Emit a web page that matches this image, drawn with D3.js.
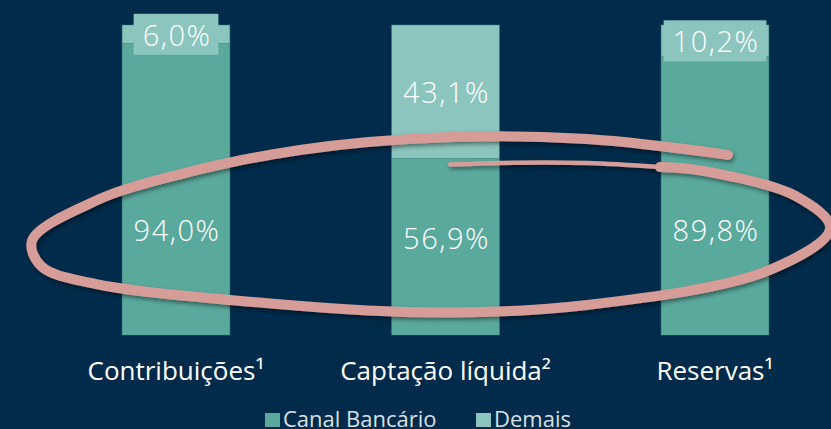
<!DOCTYPE html>
<html>
<head>
<meta charset="utf-8">
<script src="https://cdn.jsdelivr.net/npm/d3@7"></script>
<style>
  html, body { margin: 0; padding: 0; background: #002b4a; }
  svg { display: block; }
</style>
</head>
<body>
<svg id="chart" width="831" height="429"></svg>
<script>
// ---- data ----
const categories = ["Contribuições¹", "Captação líquida²", "Reservas¹"];
const canalBancario = [94.0, 56.9, 89.8];
const demais = [6.0, 43.1, 10.2];
const seriesNames = ["Canal Bancário", "Demais"];
// hand-drawn highlight annotation, in (category position, share) units
const highlightMain = [
  [2.048, 0.581], [1.525, 0.632], [1.0, 0.638], [0.460, 0.597], [0.0, 0.515],
  [-0.300, 0.432], [-0.534, 0.305], [-0.500, 0.222], [-0.300, 0.165], [0.200, 0.113],
  [0.905, 0.073], [1.525, 0.097], [2.204, 0.210], [2.427, 0.345], [2.300, 0.448],
  [1.950, 0.530], [1.796, 0.542]
];
const highlightTail = [[1.796, 0.542], [1.525, 0.555], [1.250, 0.556], [1.017, 0.550]];

// ---- styles ----
const colors = { "Canal Bancário": "#5aa99d", "Demais": "#8bc5bd" };
const bg = "#002b4a";
const pink = "#d69d98";

const svg = d3.select("#chart");
const W = 831, H = 429;
svg.append("rect").attr("width", W).attr("height", H).attr("fill", bg);

const defs = svg.append("defs");
const f = defs.append("filter").attr("id", "shadow").attr("x", "-10%").attr("y", "-10%").attr("width", "120%").attr("height", "130%");
f.append("feDropShadow").attr("dx", 1.5).attr("dy", 2.5).attr("stdDeviation", 2).attr("flood-color", "#000").attr("flood-opacity", 0.45);

const x = d3.scaleBand().domain(categories).range([41.25, 849.75]).paddingInner(0.6).paddingOuter(0.3);
const y = d3.scaleLinear().domain([0, 100]).range([335, 25]);

const rows = categories.map((c, i) => ({ cat: c, "Canal Bancário": canalBancario[i], "Demais": demais[i] }));
const stack = d3.stack().keys(seriesNames)(rows);

const g = svg.append("g");
stack.forEach(layer => {
  g.append("g").selectAll("rect").data(layer).join("rect")
    .attr("x", d => x(d.data.cat))
    .attr("width", x.bandwidth())
    .attr("y", d => y(d[1]))
    .attr("height", d => y(d[0]) - y(d[1]))
    .attr("fill", colors[layer.key])
    .attr("stroke", "#3f8a83").attr("stroke-width", 0.8).attr("stroke-opacity", 0.6);
});

// value labels
const valueFont = "'Open Sans', sans-serif";
stack.forEach(layer => {
  layer.forEach((d, i) => {
    const v = d[1] - d[0];
    const cx = x(d.data.cat) + x.bandwidth() / 2;
    let cy;
    const small = v < 15;
    if (layer.key === "Canal Bancário") {
      cy = Math.max(y(34), y(v / 2) - 9);
    } else {
      cy = (y(d[0]) + y(d[1])) / 2;
    }
    const label = d3.format(".1f")(v).replace(".", ",") + "%";
    const grp = g.append("g");
    const t = grp.append("text")
      .attr("x", cx + 1).attr("y", cy)
      .attr("text-anchor", "middle").attr("dominant-baseline", "central")
      .attr("font-family", valueFont).attr("font-weight", 300)
      .attr("font-size", 29).attr("letter-spacing", 1.5).attr("fill", "#ffffff")
      .text(label);
    if (small) {
      const w = t.node().getComputedTextLength();
      grp.insert("rect", "text")
        .attr("x", cx - w / 2 - 8).attr("width", w + 16)
        .attr("y", cy - 20.5).attr("height", 41)
        .attr("fill", colors["Demais"]);
    }
  });
});

// category labels
svg.append("g").selectAll("text").data(categories).join("text")
  .attr("x", d => x(d) + x.bandwidth() / 2)
  .attr("y", 380)
  .attr("text-anchor", "middle")
  .attr("font-family", "'Open Sans', sans-serif")
  .attr("font-size", 26)
  .attr("fill", "#ffffff")
  .text(d => d);

// highlight annotation
const ax = d3.scaleLinear().domain([0, 2]).range([x(categories[0]) + x.bandwidth() / 2, x(categories[2]) + x.bandwidth() / 2]);
const ay = d3.scaleLinear().domain([0, 1]).range([y(0), y(100)]);
const line = d3.line().x(d => ax(d[0])).y(d => ay(d[1])).curve(d3.curveCatmullRom.alpha(0.5));
const ann = svg.append("g").attr("filter", "url(#shadow)");
ann.append("path").attr("d", line(highlightTail))
  .attr("fill", "none").attr("stroke", pink).attr("stroke-width", 4.5)
  .attr("stroke-linecap", "round");
ann.append("path").attr("d", line(highlightMain))
  .attr("fill", "none").attr("stroke", pink).attr("stroke-width", 10)
  .attr("stroke-linecap", "round").attr("stroke-linejoin", "round");

// legend
const legend = svg.append("g").attr("transform", "translate(265,413)");
const items = [{ name: seriesNames[0], x: 0 }, { name: seriesNames[1], x: 211 }];
items.forEach(it => {
  legend.append("rect").attr("x", it.x).attr("y", 0).attr("width", 15).attr("height", 14).attr("fill", colors[it.name]);
  legend.append("text").attr("x", it.x + 18).attr("y", 14)
    .attr("font-family", "'Open Sans', sans-serif").attr("font-size", 22)
    .attr("fill", "#d9e1e8").text(it.name);
});
</script>
</body>
</html>
